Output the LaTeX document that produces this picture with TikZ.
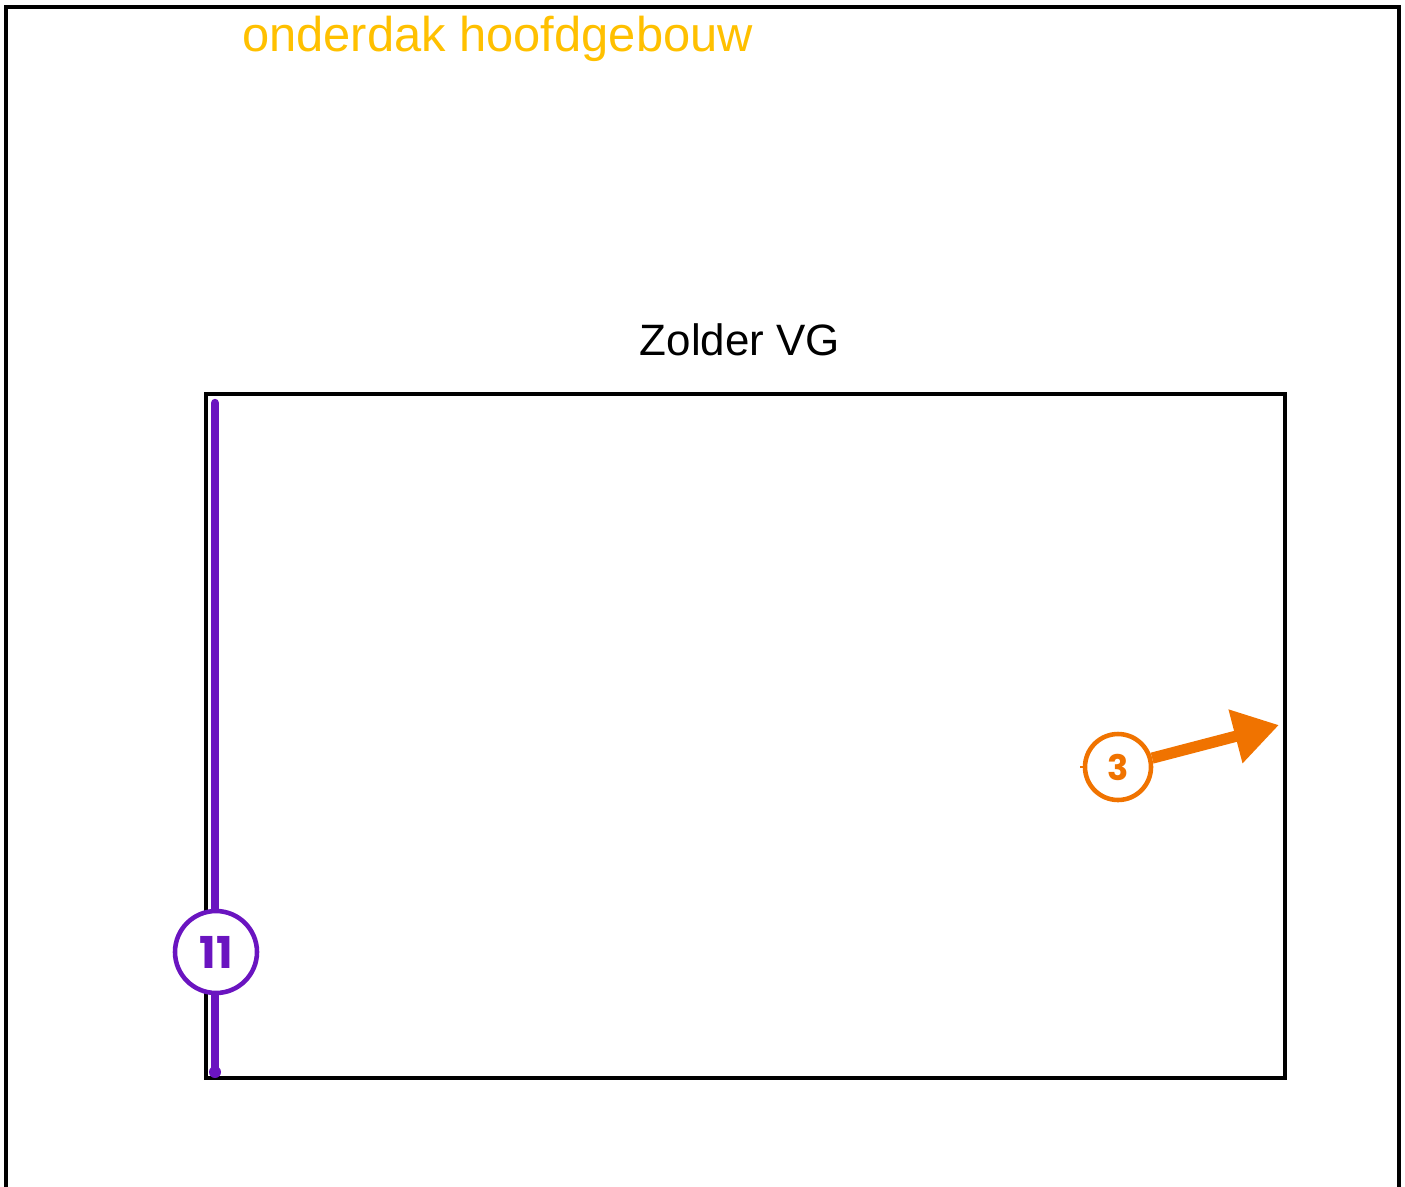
\documentclass[tikz,border=0pt]{standalone}
\usepackage{fontspec}
\setmainfont{Liberation Sans}
\newfontfamily\numfont{Poppins}
\usetikzlibrary{arrows.meta}
\definecolor{myellow}{RGB}{255,192,0}
\definecolor{mpurple}{RGB}{106,20,192}
\definecolor{morange}{RGB}{240,115,0}

\begin{document}
\begin{tikzpicture}[
    x=0.02cm, y=-0.02cm,
    wall/.style={draw=black, line width=1.9pt},
    label_title/.style={anchor=base west, inner sep=0pt, font=\fontsize{27.8}{30}\selectfont},
    marker/.style={circle, draw, fill=white, line width=2.6pt, inner sep=0pt, font=\numfont\bfseries},
    pipe/.style={mpurple, line width=4.8pt, line cap=round},
    arrow_out/.style={morange, line width=6.4pt, -{Triangle[length=0.9cm, width=1.05cm]}},
    ]

\useasboundingbox (0,0) rectangle (1405,1186);

% outer frame, open at the bottom
\draw[wall] (6,1195) -- (6,7) -- (1399,7) -- (1399,1195);
\node[label_title, text=myellow] (roof) at (242,52) {onderdak hoofdgebouw};

% attic
\draw[wall] (206,394) rectangle (1285,1078);
\node[anchor=base, inner sep=0pt, font=\fontsize{25}{30}\selectfont] (attic) at (740,355) {Zolder VG};

% purple line with marker 11
\coordinate (ptop) at (215,403);
\coordinate (pbot) at (215,1072);
\draw[pipe] (ptop) -- (pbot);
\fill[mpurple] (pbot) circle (6);
\node[marker, draw=mpurple, text=mpurple, minimum size=1.64cm, font=\numfont\bfseries\fontsize{25}{28}\selectfont] (n11) at (216,952) {11};

% orange arrow with marker 3
\node[marker, draw=morange, text=morange, minimum size=1.32cm, font=\numfont\bfseries\fontsize{20}{24}\selectfont] (n3) at (1118,767) {3};
\coordinate (tip) at (1279,725);
\draw[arrow_out] (n3) -- (tip);
\draw[morange, line width=1.5pt] (n3.west) -- ++(-3,0);

\end{tikzpicture}
\end{document}
